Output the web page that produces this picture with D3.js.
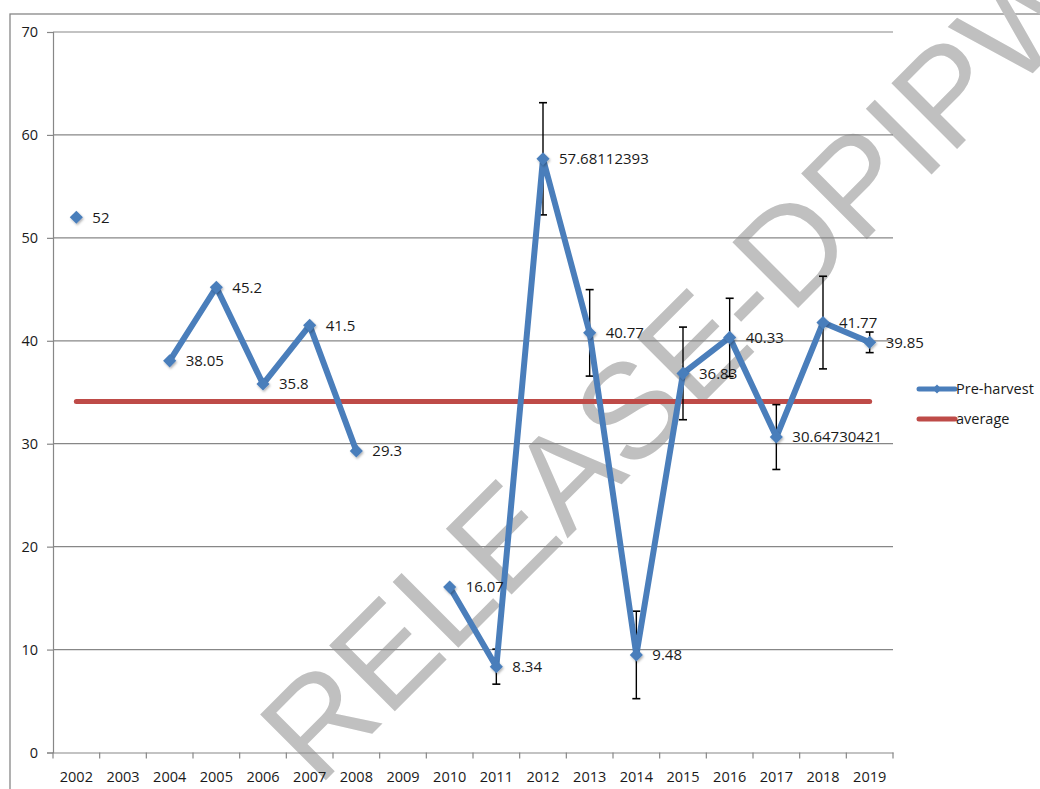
<!DOCTYPE html>
<html>
<head>
<meta charset="utf-8">
<script src="https://cdn.jsdelivr.net/npm/d3@7"></script>
<style>
  html, body { margin: 0; padding: 0; background: #fff; }
  svg { display: block; }
  text { font-family: "Open Sans", "Liberation Sans", sans-serif; }
</style>
</head>
<body>
<svg id="chart" width="1040" height="789"></svg>
<script>
// ---- data ----
const years = ["2002","2003","2004","2005","2006","2007","2008","2009","2010","2011","2012","2013","2014","2015","2016","2017","2018","2019"];
const preHarvest = [52, null, 38.05, 45.2, 35.8, 41.5, 29.3, null, 16.07, 8.34, 57.68112393, 40.77, 9.48, 36.83, 40.33, 30.64730421, 41.77, 39.85];
const preHarvestLabels = ["52", "", "38.05", "45.2", "35.8", "41.5", "29.3", "", "16.07", "8.34", "57.68112393", "40.77", "9.48", "36.83", "40.33", "30.64730421", "41.77", "39.85"];
const errorBars = [null, null, null, null, null, null, null, null, null, 1.7, 5.45, 4.2, 4.25, 4.5, 3.8, 3.15, 4.5, 1.0];
const average = [34.1, 34.1, 34.1, 34.1, 34.1, 34.1, 34.1, 34.1, 34.1, 34.1, 34.1, 34.1, 34.1, 34.1, 34.1, 34.1, 34.1, 34.1];
const yTicks = [0, 10, 20, 30, 40, 50, 60, 70];
const seriesNames = ["Pre-harvest", "average"];
const watermark = "RELEASE-DPIPWE";

// ---- layout ----
const svg = d3.select("#chart");
const plot = { left: 53, right: 893, top: 32, bottom: 752.5 };
const blue = "#4a7ebb", red = "#be4b48", grid = "#878787";
const fs = 14.5, fsLabel = 15;

// outer chart border
svg.append("rect").attr("x", 10).attr("y", 14).attr("width", 1100).attr("height", 900)
  .attr("fill", "none").attr("stroke", grid).attr("stroke-width", 1.3);

// watermark (behind chart content)
svg.append("text").attr("transform", "translate(318,788) rotate(-45)")
  .attr("font-size", 135).style("font-family", '"Liberation Sans", Arial, sans-serif')
  .attr("fill", "#c0c0c0").text(watermark);

const x = d3.scaleBand().domain(years).range([plot.left, plot.right]).padding(0);
const y = d3.scaleLinear().domain([0, 70]).range([plot.bottom, plot.top]);
const cx = d => x(d) + x.bandwidth() / 2;

// gridlines
svg.append("g").selectAll("line").data(yTicks.filter(t => t > 0)).join("line")
  .attr("x1", plot.left).attr("x2", plot.right)
  .attr("y1", d => y(d)).attr("y2", d => y(d))
  .attr("stroke", grid).attr("stroke-width", 1.2);

// y axis
const yAxis = svg.append("g").attr("transform", `translate(${plot.left},0)`)
  .call(d3.axisLeft(y).tickValues(yTicks).tickSize(6).tickPadding(9));
yAxis.select(".domain").attr("stroke", grid).attr("stroke-width", 1.2);
yAxis.selectAll(".tick line").attr("stroke", grid).attr("stroke-width", 1.2);
yAxis.selectAll(".tick text").attr("font-size", fs).attr("fill", "#1a1a1a")
  .style("font-family", '"Open Sans", sans-serif');

// x axis: labels via d3 axis, ticks at category boundaries
const xAxis = svg.append("g").attr("transform", `translate(0,${plot.bottom})`)
  .call(d3.axisBottom(x).tickSize(0).tickPadding(19));
xAxis.select(".domain").attr("stroke", grid).attr("stroke-width", 1.2);
xAxis.selectAll(".tick text").attr("font-size", fs).attr("fill", "#1a1a1a")
  .style("font-family", '"Open Sans", sans-serif');
const boundaries = years.map(d => x(d)).concat([x(years[years.length - 1]) + x.bandwidth()]);
xAxis.append("g").selectAll("line").data(boundaries).join("line")
  .attr("x1", d => d).attr("x2", d => d).attr("y1", 0).attr("y2", 6)
  .attr("stroke", grid).attr("stroke-width", 1.2);

// average line
const avgLine = d3.line().x((d, i) => cx(years[i])).y(d => y(d));
svg.append("path").datum(average).attr("d", avgLine)
  .attr("fill", "none").attr("stroke", red).attr("stroke-width", 5).attr("stroke-linecap", "round");

// error bars
const eb = svg.append("g");
years.forEach((yr, i) => {
  if (errorBars[i] == null || preHarvest[i] == null) return;
  const v = preHarvest[i], e = errorBars[i], px = cx(yr);
  eb.append("line").attr("x1", px).attr("x2", px).attr("y1", y(v + e)).attr("y2", y(v - e))
    .attr("stroke", "#000").attr("stroke-width", 1.4);
  [v + e, v - e].forEach(t => eb.append("line").attr("x1", px - 4).attr("x2", px + 4)
    .attr("y1", y(t)).attr("y2", y(t)).attr("stroke", "#000").attr("stroke-width", 1.6));
});

// pre-harvest line (gaps for missing years)
const pts = years.map((yr, i) => ({ yr, v: preHarvest[i], lab: preHarvestLabels[i] }));
const line = d3.line().defined(d => d.v != null).x(d => cx(d.yr)).y(d => y(d.v));
svg.append("path").datum(pts).attr("d", line)
  .attr("fill", "none").attr("stroke", blue).attr("stroke-width", 6)
  .attr("stroke-linejoin", "round").attr("stroke-linecap", "round");

// markers
const diamond = d3.symbol().type(d3.symbolDiamond2).size(110);
const defs = svg.append("defs");
const f = defs.append("filter").attr("id", "sh").attr("x", "-50%").attr("y", "-50%").attr("width", "200%").attr("height", "200%");
f.append("feDropShadow").attr("dx", 1).attr("dy", 1.5).attr("stdDeviation", 1.2).attr("flood-color", "#000").attr("flood-opacity", 0.3);
svg.append("g").selectAll("path").data(pts.filter(d => d.v != null)).join("path")
  .attr("d", diamond).attr("transform", d => `translate(${cx(d.yr)},${y(d.v)})`)
  .attr("fill", blue).attr("filter", "url(#sh)");

// data labels
svg.append("g").selectAll("text").data(pts.filter(d => d.v != null)).join("text")
  .attr("x", d => cx(d.yr) + 16).attr("y", d => y(d.v)).attr("dy", "0.36em")
  .attr("font-size", fsLabel).attr("fill", "#1a1a1a").text(d => d.lab);

// legend
const lg = svg.append("g");
lg.append("line").attr("x1", 919).attr("x2", 955).attr("y1", 389).attr("y2", 389)
  .attr("stroke", blue).attr("stroke-width", 5).attr("stroke-linecap", "round");
lg.append("path").attr("d", d3.symbol().type(d3.symbolDiamond2).size(50))
  .attr("transform", "translate(937,389)").attr("fill", blue);
lg.append("text").attr("x", 956).attr("y", 389).attr("dy", "0.36em").attr("font-size", fs).attr("fill", "#1a1a1a").text(seriesNames[0]);
lg.append("line").attr("x1", 919).attr("x2", 955).attr("y1", 419).attr("y2", 419)
  .attr("stroke", red).attr("stroke-width", 5).attr("stroke-linecap", "round");
lg.append("text").attr("x", 956).attr("y", 419).attr("dy", "0.36em").attr("font-size", fs).attr("fill", "#1a1a1a").text(seriesNames[1]);
</script>
</body>
</html>
